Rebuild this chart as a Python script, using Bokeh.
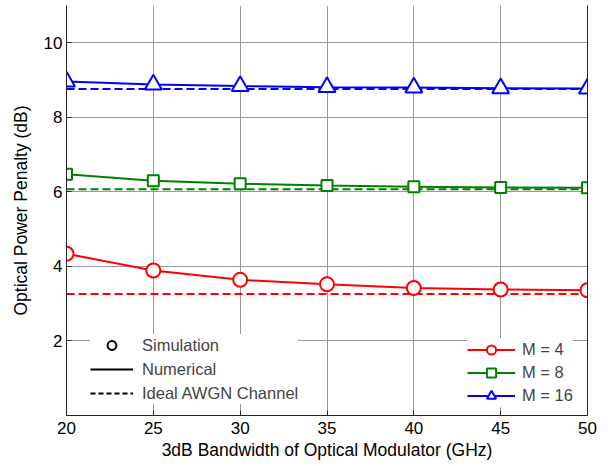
from bokeh.plotting import figure
from bokeh.models import (ColumnDataSource, Range1d, FixedTicker, Legend,
                          LegendItem, LinearAxis)
from bokeh.embed import file_html
from bokeh.resources import INLINE

# ---- data ----
bandwidth = [20, 25, 30, 35, 40, 45, 50]
x_ticks = [20, 25, 30, 35, 40, 45, 50]
y_ticks = [2, 4, 6, 8, 10]

m4_numerical = [4.34, 3.89, 3.64, 3.52, 3.42, 3.38, 3.36]
m8_numerical = [6.47, 6.30, 6.22, 6.17, 6.14, 6.12, 6.11]
m16_numerical = [8.96, 8.88, 8.84, 8.81, 8.80, 8.78, 8.77]

m4_simulation = [4.34, 3.89, 3.64, 3.52, 3.42, 3.38, 3.36]
m8_simulation = [6.47, 6.30, 6.22, 6.17, 6.14, 6.12, 6.11]
m16_simulation = [8.96, 8.88, 8.84, 8.81, 8.80, 8.78, 8.77]

m4_ideal = [3.26, 3.26, 3.26, 3.26, 3.26, 3.26, 3.26]
m8_ideal = [6.07, 6.07, 6.07, 6.07, 6.07, 6.07, 6.07]
m16_ideal = [8.76, 8.76, 8.76, 8.76, 8.76, 8.76, 8.76]

series_labels = ["M = 4", "M = 8", "M = 16"]
type_labels = ["Simulation", "Numerical", "Ideal AWGN Channel"]

FONT = "Liberation Sans"
AX = "#262626"
GRID = "#9a9a9a"

p = figure(width=616, height=466, x_range=Range1d(20, 50), y_range=Range1d(0, 11),
           output_backend="svg", toolbar_location=None,
           min_border_left=66, min_border_right=29, min_border_top=5,
           min_border_bottom=51)
p.outline_line_color = None
p.background_fill_color = "white"
p.border_fill_color = "white"

p.xaxis.ticker = FixedTicker(ticks=x_ticks)
p.yaxis.ticker = FixedTicker(ticks=y_ticks)
p.xgrid.ticker = FixedTicker(ticks=x_ticks)
p.ygrid.ticker = FixedTicker(ticks=y_ticks)
p.grid.grid_line_color = GRID
p.grid.grid_line_width = 1

for ax in (p.xaxis[0], p.yaxis[0]):
    ax.axis_line_color = AX
    ax.major_tick_line_color = AX
    ax.major_tick_in = 5
    ax.major_tick_out = 0
    ax.minor_tick_line_color = None
    ax.major_label_text_font = FONT
    ax.major_label_text_font_size = "17px"
    ax.major_label_text_color = "black"
    ax.axis_label_text_font = FONT
    ax.axis_label_text_font_size = "17.5px"
    ax.axis_label_text_font_style = "normal"
    ax.axis_label_text_color = "black"

p.xaxis.axis_label = "3dB Bandwidth of Optical Modulator (GHz)"
p.yaxis.axis_label = "Optical Power Penalty (dB)"
p.xaxis.major_label_standoff = 6
p.xaxis.axis_label_standoff = 3
p.yaxis.major_label_standoff = 4
p.yaxis.axis_label_standoff = 10

# right edge of the box (line only, no ticks or labels)
r_axis = LinearAxis(ticker=FixedTicker(ticks=[]), axis_line_color=AX,
                    major_tick_line_color=None, minor_tick_line_color=None,
                    major_label_text_font_size="0px")
p.add_layout(r_axis, "right")

colors = ["#ff0000", "#008000", "#0000ff"]
markers = ["circle", "square", "triangle"]
sizes = [14, 11, 17]
nums = [m4_numerical, m8_numerical, m16_numerical]
sims = [m4_simulation, m8_simulation, m16_simulation]
ideals = [m4_ideal, m8_ideal, m16_ideal]

series_items = []
for c, mk, sz, num, sim, ideal, lab in zip(colors, markers, sizes, nums, sims, ideals, series_labels):
    p.line(bandwidth, ideal, line_color=c, line_width=2, line_dash="8 4")
    lr = p.line(bandwidth, num, line_color=c, line_width=2)
    sr = p.scatter(bandwidth, sim, marker=mk, size=sz, line_color=c, line_width=2,
                   fill_color="white")
    series_items.append(LegendItem(label=lab, renderers=[lr, sr]))

# legend-only renderers for the type legend (no visible data)
nan = float("nan")
empty = ColumnDataSource(data=dict(x=[nan], y=[nan]))
sim_r = p.scatter("x", "y", source=empty, marker="circle", size=8, line_color="black",
                  line_width=2, fill_color="white")
num_r = p.line("x", "y", source=empty, line_color="black", line_width=2)
ide_r = p.line("x", "y", source=empty, line_color="black", line_width=2, line_dash="5 3")

type_legend = Legend(items=[LegendItem(label=type_labels[0], renderers=[sim_r]),
                            LegendItem(label=type_labels[1], renderers=[num_r]),
                            LegendItem(label=type_labels[2], renderers=[ide_r])],
                     location=(24, 11), orientation="vertical",
                     glyph_width=43, glyph_height=22, label_height=20, spacing=2,
                     label_standoff=9, padding=8, margin=0,
                     label_text_font=FONT, label_text_font_size="16.5px",
                     border_line_color=None, background_fill_color="white",
                     background_fill_alpha=1.0)

series_legend = Legend(items=series_items, location=(401, 8), orientation="vertical",
                       glyph_width=48, glyph_height=23, label_height=20, spacing=0,
                       label_standoff=7, padding=4, margin=0,
                       label_text_font=FONT, label_text_font_size="16.5px",
                       border_line_color=None, background_fill_color="white",
                       background_fill_alpha=1.0)

p.add_layout(type_legend, "center")
p.add_layout(series_legend, "center")

open("out.html", "w").write(file_html(p, INLINE))
